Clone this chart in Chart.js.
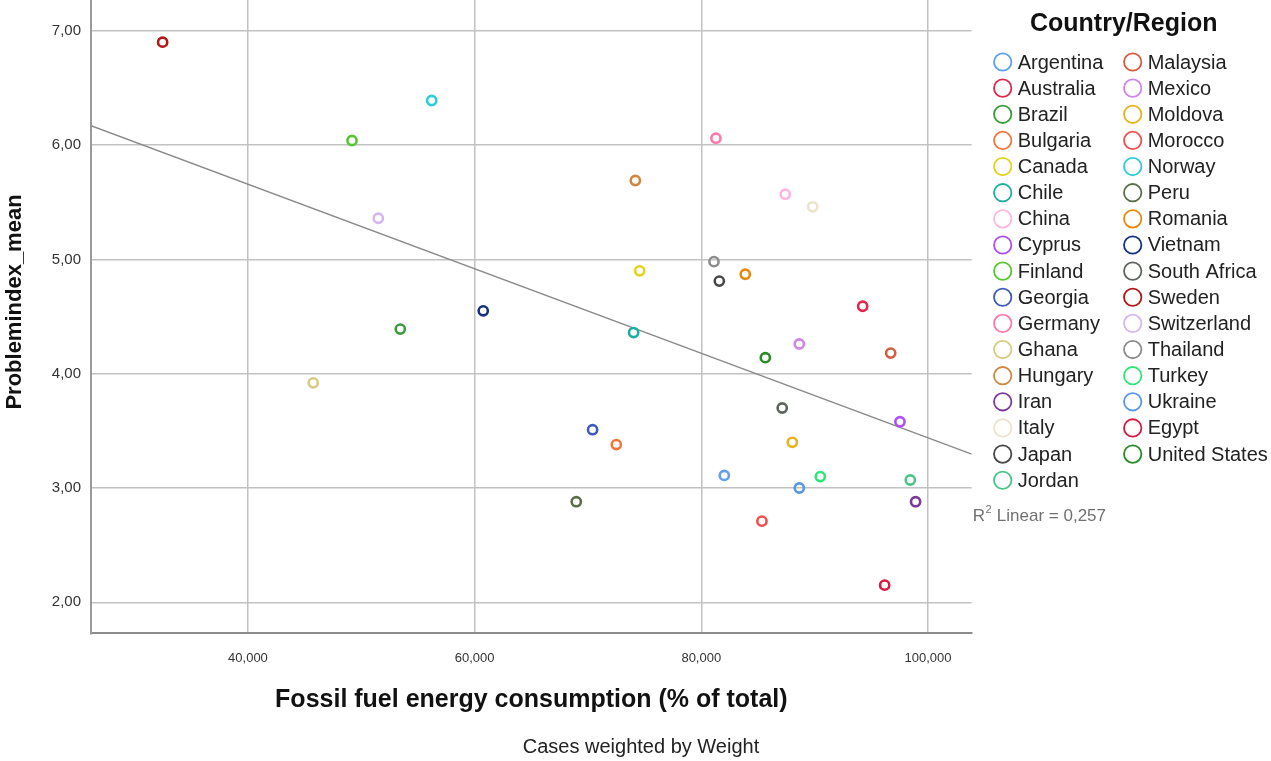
<!DOCTYPE html>
<html>
<head>
<meta charset="utf-8">
<script src="https://cdn.jsdelivr.net/npm/chart.js@4.4.1/dist/chart.umd.min.js"></script>
<style>
  html, body { margin: 0; padding: 0; background: #ffffff; }
  #wrap { width: 1271px; height: 761px; }
</style>
</head>
<body>
<div id="wrap"><canvas id="chart" width="1271" height="761"></canvas></div>
<script>
// Country order as listed in the legend
const countries = [
  'Argentina', 'Australia', 'Brazil', 'Bulgaria', 'Canada', 'Chile', 'China', 'Cyprus',
  'Finland', 'Georgia', 'Germany', 'Ghana', 'Hungary', 'Iran', 'Italy', 'Japan', 'Jordan',
  'Malaysia', 'Mexico', 'Moldova', 'Morocco', 'Norway', 'Peru', 'Romania', 'Vietnam',
  'South Africa', 'Sweden', 'Switzerland', 'Thailand', 'Turkey', 'Ukraine', 'Egypt', 'United States'
];

// Fossil fuel energy consumption (% of total)
const fossilFuel = [
  82.03, 94.24, 53.44, 72.50, 74.56, 74.03, 87.41, 97.53,
  49.18, 70.41, 81.29, 45.76, 74.18, 98.91, 89.83, 81.59, 98.44,
  96.71, 88.65, 88.03, 85.35, 56.21, 68.97, 83.88, 60.76,
  87.14, 32.47, 51.50, 81.12, 90.50, 88.65, 96.18, 85.65
];

// Problemindex_mean
const problemIndex = [
  3.11, 4.59, 4.39, 3.38, 4.90, 4.36, 5.57, 3.58,
  6.04, 3.51, 6.06, 3.92, 5.69, 2.88, 5.46, 4.81, 3.07,
  4.18, 4.26, 3.40, 2.71, 6.39, 2.88, 4.87, 4.55,
  3.70, 6.90, 5.36, 4.98, 3.10, 3.00, 2.15, 4.14
];

const countryColors = [
  '#5e9ff0', '#e0284a', '#3c9c3c', '#f5743a', '#e2d21c', '#1cae9e', '#ffb6de', '#b04ef6',
  '#56c634', '#3f5cbc', '#ff78ac', '#d6ca84', '#cf8640', '#7a3a9a', '#ebe3cc', '#484848', '#4cc486',
  '#d65a40', '#cc84ee', '#e6b41c', '#ef4e4e', '#2ccdd6', '#5a6e48', '#e8880e', '#17307f',
  '#5c645c', '#b01818', '#d6b6f0', '#8c8c8c', '#2ee676', '#5896e6', '#d81a40', '#2a8a2a'
];

// Linear fit line (end points across the axis range)
const fitFossil = [26.15, 103.86];
const fitProblem = [6.169, 3.297];
const r2Text = '0,257';

const xTickValues = [40, 60, 80, 100];
const yTickValues = [2, 3, 4, 5, 6, 7];

const FONT = '"Liberation Sans", Arial, sans-serif';

const scatterSets = countries.map((name, i) => ({
  label: name,
  data: [{ x: fossilFuel[i], y: problemIndex[i] }],
  borderColor: countryColors[i],
  backgroundColor: 'rgba(255,255,255,0)',
  pointRadius: 4.6,
  pointBorderWidth: 2.6,
  order: 1
}));

const fitSet = {
  label: 'Linear',
  data: fitFossil.map((x, i) => ({ x, y: fitProblem[i] })),
  showLine: true,
  borderColor: '#8a8a8a',
  borderWidth: 1.4,
  pointRadius: 0,
  order: 2
};

// Y-axis title, legend in two columns, R² note and the weighting caption
const annotations = {
  id: 'annotations',
  afterDraw(chart) {
    const { ctx, chartArea } = chart;
    const yScale = chart.scales.y;
    ctx.save();

    // y-axis title
    ctx.save();
    ctx.translate(15, 302);
    ctx.rotate(-Math.PI / 2);
    ctx.fillStyle = '#111111';
    ctx.font = 'bold 22px ' + FONT;
    ctx.textAlign = 'center';
    ctx.textBaseline = 'middle';
    ctx.fillText('Problemindex_mean', 0, 0);
    ctx.restore();

    // R² note at the end of the fit line
    ctx.fillStyle = '#707070';
    ctx.textBaseline = 'middle';
    ctx.textAlign = 'left';
    const rx = chartArea.right + 1;
    const ry = yScale.getPixelForValue(2.755);
    ctx.font = '17px ' + FONT;
    ctx.fillText('R', rx, ry);
    const rw = ctx.measureText('R').width;
    ctx.font = '11px ' + FONT;
    ctx.fillText('2', rx + rw + 0.5, ry - 6);
    const sw = ctx.measureText('2').width;
    ctx.font = '17px ' + FONT;
    ctx.fillText(' Linear = ' + r2Text, rx + rw + sw + 1, ry);

    // legend
    const colX = [chartArea.right + 31, chartArea.right + 161];
    const rowY0 = 62, rowGap = 26.14, perCol = 17;
    ctx.fillStyle = '#111111';
    ctx.font = 'bold 25px ' + FONT;
    ctx.textAlign = 'center';
    ctx.fillText('Country/Region', chartArea.right + 152, 24);

    ctx.textAlign = 'left';
    ctx.font = '20px ' + FONT;
    const items = chart.data.datasets.filter(d => d !== fitSet);
    items.forEach((d, i) => {
      const col = Math.floor(i / perCol);
      const row = i % perCol;
      const cx = colX[col];
      const cy = rowY0 + row * rowGap;
      ctx.beginPath();
      ctx.arc(cx, cy, 8.7, 0, Math.PI * 2);
      ctx.strokeStyle = d.borderColor;
      ctx.lineWidth = 1.8;
      ctx.stroke();
      ctx.fillStyle = '#222222';
      ctx.fillText(d.label, cx + 15, cy + 1);
    });

    // weighting caption
    ctx.fillStyle = '#222222';
    ctx.textAlign = 'center';
    ctx.font = '20px ' + FONT;
    ctx.fillText('Cases weighted by Weight', 641, 747);
    ctx.restore();
  }
};

const decimalComma = (v, digits) => v.toFixed(digits).replace('.', ',');

new Chart(document.getElementById('chart'), {
  type: 'scatter',
  data: { datasets: [fitSet, ...scatterSets] },
  options: {
    responsive: false,
    animation: false,
    devicePixelRatio: 1,
    events: [],
    layout: { autoPadding: false, padding: { left: 0, top: 0, right: 299.3, bottom: 0 } },
    plugins: { legend: { display: false }, tooltip: { enabled: false } },
    scales: {
      x: {
        type: 'linear',
        min: 26.15,
        max: 103.86,
        afterBuildTicks: s => { s.ticks = xTickValues.map(v => ({ value: v })); },
        afterFit: s => { s.height = 127.7; s.paddingLeft = 0; s.paddingRight = 0; },
        ticks: {
          padding: 17,
          color: '#333333',
          font: { family: FONT, size: 13 },
          maxRotation: 0,
          callback: v => decimalComma(v, 3)
        },
        grid: { color: '#c2c2c2', lineWidth: 1.5, drawTicks: false },
        border: { color: '#8c8c8c', width: 2 },
        title: {
          display: true,
          text: 'Fossil fuel energy consumption (% of total)',
          color: '#111111',
          font: { family: FONT, size: 25, weight: 'bold' },
          padding: { top: 0, bottom: 46 }
        }
      },
      y: {
        type: 'linear',
        min: 1.729,
        max: 7.269,
        afterBuildTicks: s => { s.ticks = yTickValues.map(v => ({ value: v })); },
        afterFit: s => { s.width = 91; s.paddingTop = 0; s.paddingBottom = 0; },
        ticks: {
          padding: 10,
          color: '#333333',
          font: { family: FONT, size: 15 },
          callback: v => decimalComma(v, 2)
        },
        grid: { color: '#c2c2c2', lineWidth: 1.5, drawTicks: false },
        border: { color: '#9a9a9a', width: 2 }
      }
    }
  },
  plugins: [annotations]
});
</script>
</body>
</html>
